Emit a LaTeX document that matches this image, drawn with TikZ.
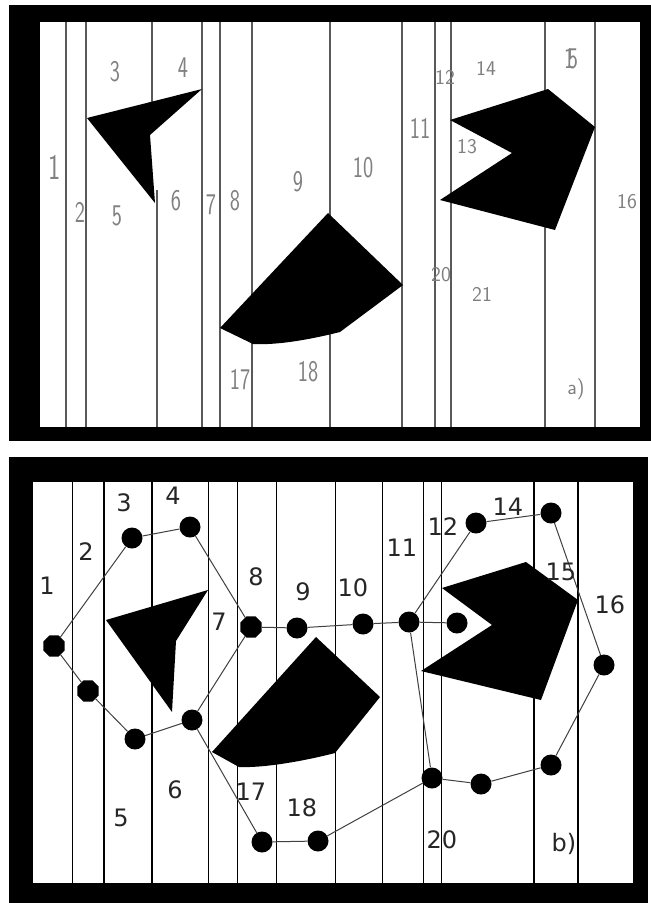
\documentclass[tikz,border=0pt]{standalone}
\usepackage{fontspec}
\usetikzlibrary{shapes.geometric}
\newfontfamily\dejavu{DejaVu Sans}
\newcommand{\nrw}[1]{\scalebox{0.72}[1]{#1}}

\begin{document}
\begin{tikzpicture}[
  x=1pt, y=-1pt,
  strip/.style={black!65, line width=1.3pt},
  stripb/.style={black, line width=1.4pt},
  obst/.style={fill=black},
  wp/.style={circle, fill=black, inner sep=0pt, minimum size=21pt},
  wpo/.style={regular polygon, regular polygon sides=8, fill=black, inner sep=0pt, minimum size=23pt},
  edge/.style={black!75, line width=1pt},
  lbla/.style={text=black!50, font=\sffamily\fontsize{30}{32}\selectfont},
  lblabig/.style={text=black!50, font=\sffamily\fontsize{36}{38}\selectfont},
  lblasm/.style={text=black!50, font=\sffamily\fontsize{21}{22}\selectfont},
  lblb/.style={text=black!85, font=\dejavu\fontsize{24}{26}\selectfont},
]
\useasboundingbox (0,0) rectangle (651,903);
\fill[white] (0,0) rectangle (651,903);

% ══════════════════════════════════════════════════════
% Panel a) -- cell decomposition
% ══════════════════════════════════════════════════════
\fill (9,5) rectangle (651,441);
\fill[white] (40,22) rectangle (640,427);

% ── Cell boundaries ─────────────────────────────────
\foreach \x in {66,86,202,220,252,330,402,435,451,545,595}
  \draw[strip] (\x,22) -- (\x,427);
\draw[strip] (152,22) -- (152,115);
\draw[strip] (157,190) -- (157,427);

% ── Obstacles ───────────────────────────────────────
\fill[obst] (87,118) -- (202,89) -- (150,135) -- (155,203) -- cycle;
\fill[obst] (220,328) -- (328,213) -- (403,285) -- (340,332)
  .. controls (300,342) and (272,345) .. (253,344) -- cycle;
\fill[obst] (450,120) -- (548,89) -- (595,127) -- (555,230)
  -- (440,200) -- (512,153) -- cycle;

% ── Cell numbers ────────────────────────────────────
\node[lblabig] (la1) at (55,167) {\nrw{1}};
\node[lbla] (la2) at (80,212) {\nrw{2}};
\node[lbla] (la3) at (115,72) {\nrw{3}};
\node[lbla] (la4) at (183,68) {\nrw{4}};
\node[lbla] (la5) at (117,216) {\nrw{5}};
\node[lbla] (la6) at (176,201) {\nrw{6}};
\node[lbla] (la7) at (211,205) {\nrw{7}};
\node[lbla] (la8) at (235,201) {\nrw{8}};
\node[lbla] (la9) at (298,182) {\nrw{9}};
\node[lbla] (la10) at (363,168) {\nrw{10}};
\node[lbla] (la11) at (420,128) {\nrw{11}};
\node[lblasm] (la12) at (445,77) {12};
\node[lblasm] (la13) at (467,147) {13};
\node[lblasm] (la14) at (486,68) {14};
\node[lbla] (la15) at (571,59) {\nrw{1\kern-0.3em 5}};
\node[lblasm] (la16) at (627,202) {16};
\node[lbla] (la17) at (240,380) {\nrw{17}};
\node[lbla] (la18) at (308,372) {\nrw{18}};
\node[lblasm] (la20) at (441,275) {20};
\node[lblasm] (la21) at (482,294) {21};
\node[lblasm] (lat) at (576,389) {a)};

% ══════════════════════════════════════════════════════
% Panel b) -- connectivity graph and path
% ══════════════════════════════════════════════════════
\fill (9,457) rectangle (648,903);
\fill[white] (33,482) rectangle (633,883);

% ── Cell boundaries ─────────────────────────────────
\foreach \x in {72.6,104,152,208.5,237.5,276.5,335.5,382.5,423.5,441.5,534,578}
  \draw[stripb] (\x,482) -- (\x,883);

% ── Obstacles ───────────────────────────────────────
\fill[obst] (106,620) -- (208,590) -- (176,641) -- (172,712) -- cycle;
\fill[obst] (212,752) -- (316,637) -- (380,697) -- (335,753)
  .. controls (300,762) and (262,768) .. (239,767) -- cycle;
\fill[obst] (442,588) -- (526,562) -- (578,600) -- (541,700)
  -- (421,671) -- (492,625) -- cycle;

% ── Waypoints ───────────────────────────────────────
\node[wpo] (p1) at (54,646) {};
\node[wpo] (p2) at (88,691) {};
\node[wp] (p3) at (132,538) {};
\node[wp] (p4) at (190,527) {};
\node[wp] (p5) at (135,739) {};
\node[wp] (p6) at (192,720) {};
\node[wpo] (p7) at (251,627) {};
\node[wp] (p9) at (297,628) {};
\node[wp] (p10) at (363,624) {};
\node[wp] (p11) at (409,622) {};
\node[wp] (p13) at (457,623) {};
\node[wp] (p12) at (476,523) {};
\node[wp] (p14) at (551,513) {};
\node[wp] (p16) at (604,665) {};
\node[wp] (p19) at (551,765) {};
\node[wp] (p21) at (481,784) {};
\node[wp] (p20) at (432,778) {};
\node[wp] (p18) at (318,841) {};
\node[wp] (p17) at (262,842) {};

% ── Connections ─────────────────────────────────────
\draw[edge] (p1) -- (p3) -- (p4) -- (p7) -- (p6) -- (p5) -- (p2) -- (p1);
\draw[edge] (p7) -- (p9) -- (p10) -- (p11) -- (p13);
\draw[edge] (p11) -- (p12) -- (p14) -- (p16) -- (p19) -- (p21) -- (p20) -- (p11);
\draw[edge] (p6) -- (p17) -- (p18) -- (p20);

% ── Cell numbers ────────────────────────────────────
\node[lblb] (lb1) at (47,586) {1};
\node[lblb] (lb2) at (86,552) {2};
\node[lblb] (lb3) at (124,503) {3};
\node[lblb] (lb4) at (173,496) {4};
\node[lblb] (lb5) at (121,818) {5};
\node[lblb] (lb6) at (175,790) {6};
\node[lblb] (lb7) at (219,622) {7};
\node[lblb] (lb8) at (256,577) {8};
\node[lblb] (lb9) at (303,592) {9};
\node[lblb] (lb10) at (353,588) {10};
\node[lblb] (lb11) at (402,548) {11};
\node[lblb] (lb12) at (443,527) {12};
\node[lblb] (lb14) at (508,507) {14};
\node[lblb] (lb15) at (561,572) {15};
\node[lblb] (lb16) at (610,605) {16};
\node[lblb] (lb17) at (251,792) {17};
\node[lblb] (lb18) at (302,808) {18};
\node[lblb] (lb20) at (442,840) {20};
\node[lblb] (lbt) at (564,844) {b)};

\end{tikzpicture}
\end{document}
